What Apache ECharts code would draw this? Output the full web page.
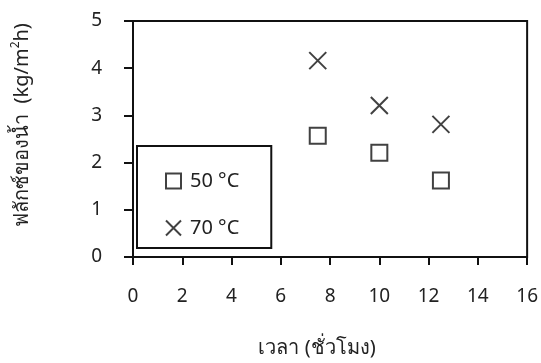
<!DOCTYPE html>
<html>
<head>
<meta charset="utf-8">
<script src="https://cdn.jsdelivr.net/npm/echarts@6/dist/echarts.min.js"></script>
<style>
  html, body { margin: 0; padding: 0; background: #fff; }
  #chart { width: 541px; height: 363px; }
</style>
</head>
<body>
<div id="chart"></div>
<script>
// Drying time (hours) and water flux (kg/m²h) at two temperatures
const hours = [7.5, 10, 12.5];
const flux50 = [2.57, 2.21, 1.62];
const flux70 = [4.16, 3.21, 2.81];
const seriesNames = ['50 °C', '70 °C'];
const xTicks = { min: 0, max: 16, interval: 2 };
const yTicks = { min: 0, max: 5, interval: 1 };

const FONT = "'Noto Sans', 'Open Sans', sans-serif";
const INK = '#111';
const TEXT = '#222';

const toPoints = (xs, ys) => xs.map((x, i) => [x, ys[i]]);

const chart = echarts.init(document.getElementById('chart'), null, { renderer: 'canvas' });

chart.setOption({
  animation: false,
  backgroundColor: '#fff',
  grid: {
    left: 133, right: 12, top: 21, bottom: 105,
    show: true, borderColor: INK, borderWidth: 2
  },
  legend: {
    data: seriesNames,
    orient: 'vertical',
    left: 137, top: 146,
    padding: [25, 32, 10, 28],
    itemWidth: 15, itemHeight: 15,
    itemGap: 27,
    borderColor: INK, borderWidth: 2, backgroundColor: '#fff',
    textStyle: { fontFamily: FONT, fontSize: 20, color: TEXT, padding: [0, 0, 0, 4] }
  },
  xAxis: {
    type: 'value',
    min: xTicks.min, max: xTicks.max, interval: xTicks.interval,
    name: 'เวลา (ชั่วโมง)',
    nameLocation: 'middle',
    nameGap: 81,
    nameTextStyle: { fontFamily: FONT, fontSize: 20, color: TEXT, padding: [0, 26, 0, 0] },
    axisLine: { show: true, onZero: false, lineStyle: { color: INK, width: 2 } },
    axisTick: { show: true, inside: false, length: 8, lineStyle: { color: INK, width: 2 } },
    axisLabel: { fontFamily: FONT, fontSize: 19, color: TEXT, margin: 30 },
    splitLine: { show: false }
  },
  yAxis: {
    type: 'value',
    min: yTicks.min, max: yTicks.max, interval: yTicks.interval,
    name: '{t|ฟลักซ์ของน้ำ  (kg/m}{sup|2}{t|h)}',
    nameLocation: 'middle',
    nameRotate: 90,
    nameGap: 99,
    nameTextStyle: {
      padding: [0, 0, 0, 28],
      rich: {
        t: { fontFamily: FONT, fontSize: 20, color: TEXT, lineHeight: 24 },
        sup: { fontFamily: FONT, fontSize: 12, color: TEXT, verticalAlign: 'top', lineHeight: 24, padding: [0, 0, 8, 0] }
      }
    },
    axisLine: { show: true, onZero: false, lineStyle: { color: INK, width: 2 } },
    axisTick: { show: true, inside: false, length: 9, lineStyle: { color: INK, width: 2 } },
    axisLabel: { fontFamily: FONT, fontSize: 19, color: TEXT, margin: 31, padding: [0, 0, 5, 0] },
    splitLine: { show: false }
  },
  series: [
    {
      name: seriesNames[0],
      type: 'scatter',
      data: toPoints(hours, flux50),
      symbol: 'rect',
      symbolSize: 16,
      itemStyle: { color: 'rgba(255,255,255,0)', borderColor: INK, borderWidth: 2 }
    },
    {
      name: seriesNames[1],
      type: 'scatter',
      data: toPoints(hours, flux70),
      symbol: 'path://M0,0L10,10M10,0L0,10',
      symbolSize: 17,
      itemStyle: { color: 'rgba(255,255,255,0)', borderColor: INK, borderWidth: 2 }
    }
  ]
});
</script>
</body>
</html>
